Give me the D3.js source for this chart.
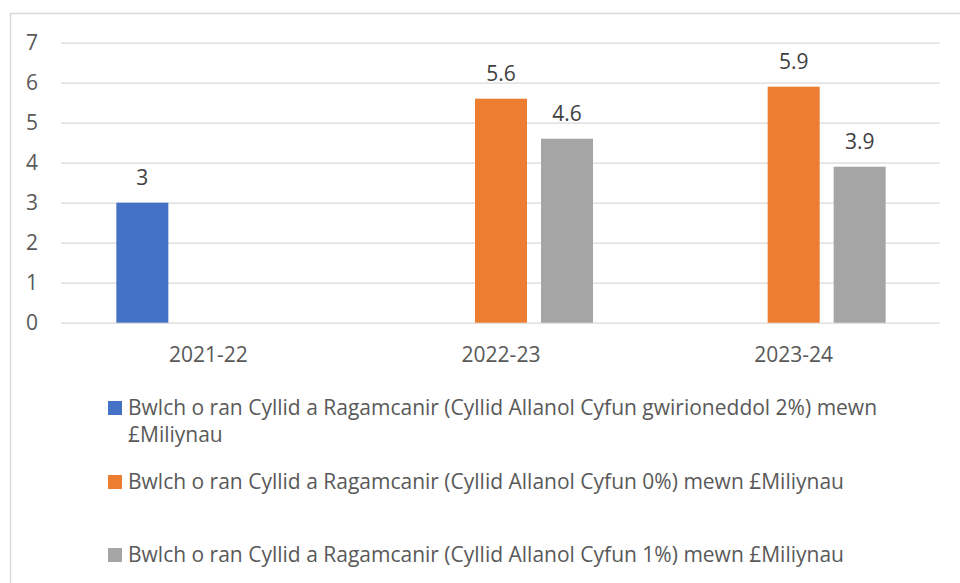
<!DOCTYPE html>
<html><head><meta charset="utf-8">
<script src="https://cdn.jsdelivr.net/npm/d3@7"></script>
<style>
html,body{margin:0;padding:0;background:#fff;}
svg{display:block;font-family:"Open Sans", sans-serif;}
</style></head>
<body><svg id="chart" width="960" height="583"></svg>
<script>
const categories = ["2021-22", "2022-23", "2023-24"];
const seriesNames = [
  "Bwlch o ran Cyllid a Ragamcanir (Cyllid Allanol Cyfun gwirioneddol 2%) mewn £Miliynau",
  "Bwlch o ran Cyllid a Ragamcanir (Cyllid Allanol Cyfun 0%) mewn £Miliynau",
  "Bwlch o ran Cyllid a Ragamcanir (Cyllid Allanol Cyfun 1%) mewn £Miliynau"
];
const series2pct = [3, null, null];
const series0pct = [null, 5.6, 5.9];
const series1pct = [null, 4.6, 3.9];
const yTicks = [0, 1, 2, 3, 4, 5, 6, 7];
const colors = ["#4472C4", "#ED7D31", "#A5A5A5"];

const allSeries = [series2pct, series0pct, series1pct];
const svg = d3.select("#chart");
const textColor = "#595959";
const fontSize = 21;

// outer border
svg.append("rect").attr("x", 10.5).attr("y", 13.5).attr("width", 960).attr("height", 600)
  .attr("fill", "none").attr("stroke", "#d9d9d9").attr("stroke-width", 1.5);

const x0 = d3.scaleBand().domain(categories).range([62, 940]).paddingInner(0).paddingOuter(0);
const y = d3.scaleLinear().domain([0, 7]).range([322.7, 42.7]);
const barW = 52, gap = 14;
const groupW = barW * 3 + gap * 2;
const x1 = d3.scaleBand().domain([0, 1, 2]).range([0, groupW]).paddingInner(gap / (barW + gap)).paddingOuter(0);

// gridlines
const yAxis = d3.axisLeft(y).tickValues(yTicks).tickSize(-879).tickFormat(d3.format("d"));
const gy = svg.append("g").attr("transform", "translate(61,0)").call(yAxis);
gy.select(".domain").remove();
gy.selectAll(".tick line").attr("stroke", "#d9d9d9").attr("stroke-width", 1.3);
gy.selectAll(".tick text").attr("fill", textColor).attr("font-size", fontSize)
  .attr("x", -23).attr("text-anchor", "end").attr("font-family", "'Open Sans', sans-serif");

// x axis labels
const xAxis = d3.axisBottom(x0).tickSize(0).tickPadding(0);
const gx = svg.append("g").attr("transform", "translate(0,322.7)").call(xAxis);
gx.select(".domain").remove();
gx.selectAll(".tick text").attr("fill", textColor).attr("font-size", fontSize)
  .attr("dy", null).attr("y", 39).attr("font-family", "'Open Sans', sans-serif");

// bars
const barData = [];
categories.forEach((c, i) => allSeries.forEach((s, k) => {
  if (s[i] != null) barData.push({cat: c, k, v: s[i]});
}));
const groupStart = c => x0(c) + x0.bandwidth() / 2 - groupW / 2;
svg.append("g").selectAll("rect").data(barData).join("rect")
  .attr("x", d => groupStart(d.cat) + x1(d.k))
  .attr("width", x1.bandwidth())
  .attr("y", d => y(d.v))
  .attr("height", d => y(0) - y(d.v))
  .attr("fill", d => colors[d.k]);

svg.append("g").selectAll("text").data(barData).join("text")
  .attr("x", d => groupStart(d.cat) + x1(d.k) + x1.bandwidth() / 2)
  .attr("y", d => y(d.v) - 18)
  .attr("text-anchor", "middle").attr("fill", "#404040").attr("font-size", fontSize)
  .text(d => d.v);

// legend
const legendY = [408, 482, 555];
const maxW = 790;
seriesNames.forEach((name, k) => {
  const g = svg.append("g");
  g.append("rect").attr("x", 108).attr("y", legendY[k] - 7).attr("width", 14).attr("height", 14).attr("fill", colors[k]);
  const t = g.append("text").attr("x", 128).attr("y", legendY[k])
    .attr("fill", textColor).attr("font-size", fontSize);
  const words = name.split(" ");
  let line = [];
  let tspan = t.append("tspan").attr("x", 128).attr("dy", "0.35em");
  words.forEach(w => {
    line.push(w);
    tspan.text(line.join(" "));
    if (tspan.node().getComputedTextLength() > maxW && line.length > 1) {
      line.pop();
      tspan.text(line.join(" "));
      line = [w];
      tspan = t.append("tspan").attr("x", 128).attr("dy", 27).text(w);
    }
  });
});
</script></body></html>
